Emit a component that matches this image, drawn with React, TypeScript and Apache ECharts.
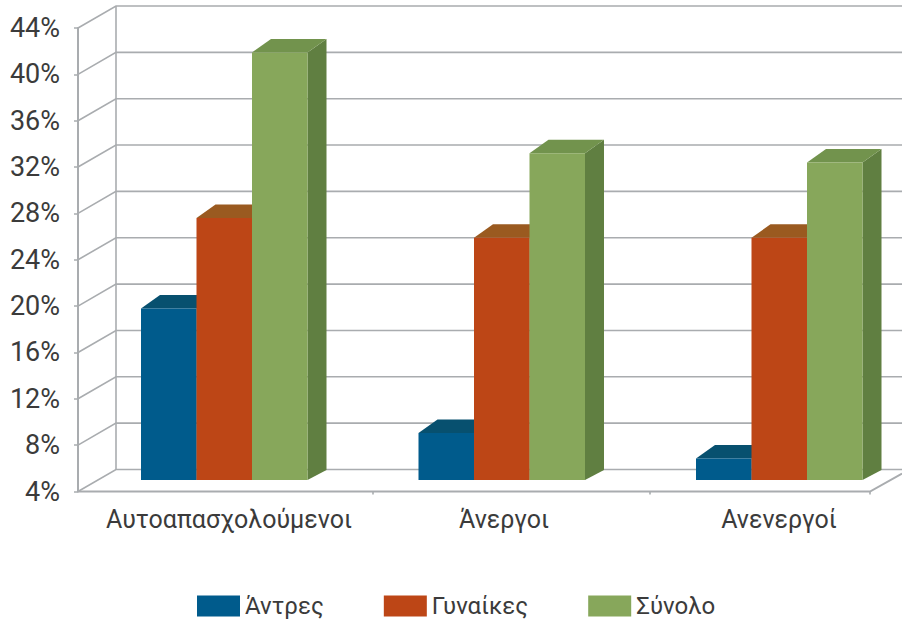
import React, { useEffect, useRef } from "react";
import * as echarts from "echarts";

const categories = ["Αυτοαπασχολούμενοι", "Άνεργοι", "Ανενεργοί"];
const seriesNames = ["Άντρες", "Γυναίκες", "Σύνολο"];
const men = [18.8, 8.05, 5.85];
const women = [26.6, 24.9, 24.9];
const total = [40.9, 32.2, 31.4];
const yTicks = [4, 8, 12, 16, 20, 24, 28, 32, 36, 40, 44];
const xTickCats = [0, 1, 2];

const FONT = "Roboto";
const TEXT = "#3b3b3b";
const GRID = "#a9acaf";
const faces = [
  { front: "#005b8c", top: "#07506f", side: "#04466a" },
  { front: "#bd4616", top: "#9a5a20", side: "#8f3a14" },
  { front: "#87a75b", top: "#72934d", side: "#607f41" },
];
const BAR_W = 55.5;
const WALL_DX = 38;
const WALL_DY = -22;
const PLANE_DY = -11.5;

function barSeries(name: string, values: number[], s: number) {
  return {
    type: "custom",
    name,
    xAxisIndex: 1,
    yAxisIndex: 1,
    coordinateSystem: "cartesian2d",
    clip: false,
    z: 5 + s,
    itemStyle: { color: faces[s].front },
    data: values.map((v, i) => [i, v]),
    encode: { x: 0, y: 1 },
    renderItem: (_p: any, api: any) => {
      const top = api.coord([api.value(0), api.value(1)]);
      const base = api.coord([api.value(0), 4]);
      const x0 = top[0] + (s - 1.5) * BAR_W;
      const x1 = x0 + BAR_W;
      const yt = top[1] + PLANE_DY;
      const yb = base[1] + PLANE_DY;
      const poly = (points: number[][], fill: string) => ({
        type: "polygon",
        shape: { points },
        style: { fill, stroke: null },
      });
      return {
        type: "group",
        children: [
          poly([[x1, yt], [x1 + 19, yt - 13.5], [x1 + 19, yb - 10], [x1, yb]], faces[s].side),
          poly([[x0, yt], [x0 + 19, yt - 13.5], [x1 + 19, yt - 13.5], [x1, yt]], faces[s].top),
          poly([[x0, yt], [x1, yt], [x1, yb], [x0, yb]], faces[s].front),
        ],
      };
    },
  };
}

const wallSeries = {
  type: "custom",
  name: "wall",
  xAxisIndex: 0,
  yAxisIndex: 0,
  coordinateSystem: "cartesian2d",
  clip: false,
  silent: true,
  z: 1,
  data: yTicks.map((t) => [0, t]),
  encode: { y: 1 },
  renderItem: (params: any, api: any) => {
    const p = api.coord([0, api.value(1)]);
    const left = 78;
    const line = (pts: number[][], w = 1.6) => ({
      type: "polyline",
      shape: { points: pts },
      style: { fill: null, stroke: GRID, lineWidth: w },
    });
    const children: any[] = [
      line(
        [
          [left, p[1]],
          [left + WALL_DX, p[1] + WALL_DY],
          [902, p[1] + WALL_DY],
        ],
      ),
    ];
    if (params.dataIndex === 0) {
      const topY = api.coord([0, 44])[1];
      children.push(
        line([[left + WALL_DX, topY + WALL_DY], [left + WALL_DX, p[1] + WALL_DY]]),
        line([[left, p[1]], [870, p[1]], [902, p[1] - 18]], 2),
        line([[373, p[1]], [373, p[1] + 3]]),
        line([[650, p[1]], [650, p[1] + 3]]),
        line([[870, p[1]], [870, p[1] + 3]]),
      );
    }
    return { type: "group", children };
  },
};

const option: any = {
  animation: false,
  backgroundColor: "#ffffff",
  textStyle: { fontFamily: FONT },
  grid: [
    { left: 78, top: 28, width: 792, height: 463.5, outerBoundsMode: "none" },
    { left: 85.5, top: 28, width: 832.5, height: 463.5, outerBoundsMode: "none" },
    { left: 91.5, top: 28, width: 825, height: 463.5, outerBoundsMode: "none" },
  ],
  xAxis: [
    { gridIndex: 0, type: "category", data: xTickCats, show: false },
    { gridIndex: 1, type: "category", data: categories, show: false },
    {
      gridIndex: 2,
      type: "category",
      data: categories,
      axisLine: { show: false },
      axisTick: { show: false },
      axisLabel: { color: TEXT, fontFamily: FONT, fontSize: 25, margin: 15, interval: 0 },
    },
  ],
  yAxis: [
    {
      gridIndex: 0,
      type: "value",
      min: 4,
      max: 44,
      interval: 4,
      axisLine: { show: true, lineStyle: { color: GRID, width: 2 } },
      axisTick: { show: true, length: 4, lineStyle: { color: GRID, width: 1.5 } },
      axisLabel: {
        color: TEXT,
        fontFamily: FONT,
        fontSize: 27,
        margin: 18,
        padding: [0, 0, 4, 0],
        formatter: "{value}%",
      },
      splitLine: { show: false },
    },
    { gridIndex: 1, type: "value", min: 4, max: 44, interval: 4, show: false, splitLine: { show: false } },
    { gridIndex: 2, type: "value", min: 4, max: 44, interval: 4, show: false, splitLine: { show: false } },
  ],
  legend: {
    left: 197,
    top: 594,
    padding: 0,
    itemWidth: 43,
    itemHeight: 21,
    itemGap: 60,
    icon: "rect",
    textStyle: { color: TEXT, fontFamily: FONT, fontSize: 24 },
    data: seriesNames.map((name, i) => ({ name, itemStyle: { color: faces[i].front } })),
  },
  series: [
    wallSeries,
    barSeries(seriesNames[0], men, 0),
    barSeries(seriesNames[1], women, 1),
    barSeries(seriesNames[2], total, 2),
    {
      type: "custom",
      name: "labels",
      xAxisIndex: 2,
      yAxisIndex: 2,
      data: [],
      renderItem: () => ({ type: "group", children: [] }),
    },
  ],
};

export default function App() {
  const ref = useRef<HTMLDivElement>(null);
  useEffect(() => {
    const chart = echarts.init(ref.current!, undefined, { renderer: "svg" });
    chart.setOption(option);
    return () => chart.dispose();
  }, []);
  return <div ref={ref} style={{ position: "absolute", left: 0, top: 0, width: 902, height: 627 }} />;
}
